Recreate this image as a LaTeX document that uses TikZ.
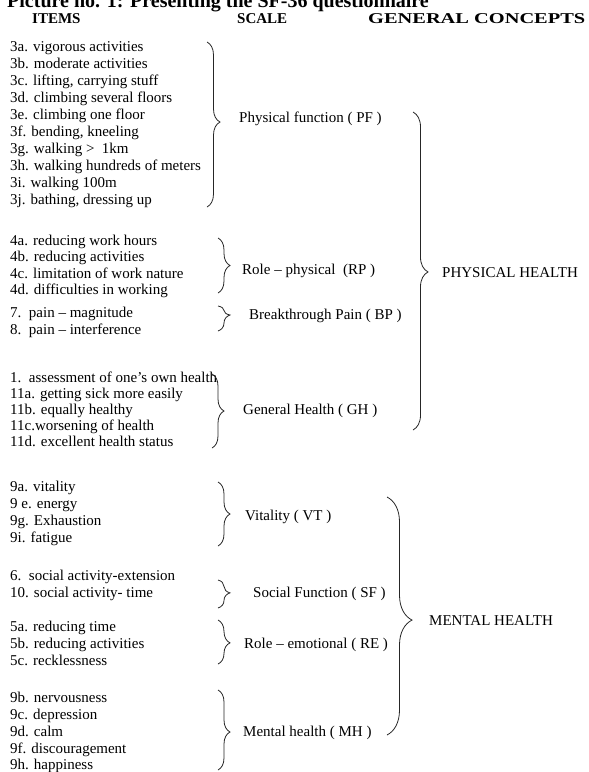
\documentclass[tikz,border=0pt]{standalone}
\usepackage{fontspec}
\setmainfont{Liberation Serif}
\usetikzlibrary{decorations.pathreplacing}
\begin{document}
\begin{tikzpicture}[x=1pt,y=-1pt,
  item/.style={anchor=base west,inner sep=0pt,font=\fontsize{15}{17}\selectfont},
  head/.style={anchor=base west,inner sep=0pt,font=\fontsize{15}{17}\selectfont\bfseries},
  br/.style 2 args={decorate,decoration={brace,amplitude=#1,aspect=#2},line width=0.8pt,draw=black!85}]
\useasboundingbox (0,0) rectangle (589,772);
% title and headers
\node[anchor=base west,inner sep=0pt,font=\fontsize{20}{22}\selectfont\bfseries] (title) at (7,7) {Picture no. 1: Presenting the SF-36 questionnaire};
\node[head] (hitems) at (32,23.5) {ITEMS};
\node[head] (hscale) at (237,23.5) {SCALE};
\node[head] (hgen) at (368,23.5) {\scalebox{1.36}[1]{GENERAL CONCEPTS}};
% PF items
\node[item] (i3a) at (10,51) {3a. vigorous activities};
\node[item] (i3b) at (10,68) {3b. moderate activities};
\node[item] (i3c) at (10,85) {3c. lifting, carrying stuff};
\node[item] (i3d) at (10,102) {3d. climbing several floors};
\node[item] (i3e) at (10,119) {3e. climbing one floor};
\node[item] (i3f) at (10,136) {3f. bending, kneeling};
\node[item] (i3g) at (10,153) {3g. walking >\ \ 1km};
\node[item] (i3h) at (10,170) {3h. walking hundreds of meters};
\node[item] (i3i) at (10,187) {3i. walking 100m};
\node[item] (i3j) at (10,204) {3j. bathing, dressing up};
% RP items
\node[item] (i4a) at (10,245) {4a. reducing work hours};
\node[item] (i4b) at (10,261) {4b. reducing activities};
\node[item] (i4c) at (10,278) {4c. limitation of work nature};
\node[item] (i4d) at (10,294) {4d. difficulties in working};
% BP items
\node[item] (i7) at (10,317) {7.\ \ pain – magnitude};
\node[item] (i8) at (10,334) {8.\ \ pain – interference};
% GH items
\node[item] (i1) at (10,382) {1.\ \ assessment of one’s own health};
\node[item] (i11a) at (10,398) {11a. getting sick more easily};
\node[item] (i11b) at (10,414) {11b. equally healthy};
\node[item] (i11c) at (10,430) {11c.worsening of health};
\node[item] (i11d) at (10,446) {11d. excellent health status};
% VT items
\node[item] (i9a) at (10,491) {9a. vitality};
\node[item] (i9e) at (10,508) {9 e. energy};
\node[item] (i9g) at (10,525) {9g. Exhaustion};
\node[item] (i9i) at (10,542) {9i. fatigue};
% SF items
\node[item] (i6) at (10,580) {6.\ \ social activity-extension};
\node[item] (i10) at (10,597) {10. social activity- time};
% RE items
\node[item] (i5a) at (10,631) {5a. reducing time};
\node[item] (i5b) at (10,648) {5b. reducing activities};
\node[item] (i5c) at (10,665) {5c. recklessness};
% MH items
\node[item] (i9b) at (10,702) {9b. nervousness};
\node[item] (i9c) at (10,719) {9c. depression};
\node[item] (i9d) at (10,736) {9d. calm};
\node[item] (i9f) at (10,753) {9f. discouragement};
\node[item] (i9h) at (10,769) {9h. happiness};
% scale labels
\node[item] (pf) at (239,122) {Physical function ( PF )};
\node[item] (rp) at (242,274) {Role – physical\ \ (RP )};
\node[item] (bp) at (249,319) {Breakthrough Pain ( BP )};
\node[item] (gh) at (243,414) {General Health ( GH )};
\node[item] (vt) at (245,520) {Vitality ( VT )};
\node[item] (sf) at (253,597) {Social Function ( SF )};
\node[item] (re) at (244,648) {Role – emotional ( RE )};
\node[item] (mh) at (243,736) {Mental health ( MH )};
% general concepts
\node[item] (ph) at (442,277) {PHYSICAL HEALTH};
\node[item] (ment) at (429,625) {MENTAL HEALTH};
% brace end points
\coordinate (pfT) at (207,42);  \coordinate (pfB) at (207,207);
\coordinate (rpT) at (218,238); \coordinate (rpB) at (218,293);
\coordinate (bpT) at (218,306); \coordinate (bpB) at (218,331);
\coordinate (ghT) at (212,374); \coordinate (ghB) at (212,448);
\coordinate (vtT) at (218,482); \coordinate (vtB) at (218,546);
\coordinate (sfT) at (218,580); \coordinate (sfB) at (218,608);
\coordinate (reT) at (218,620); \coordinate (reB) at (218,664);
\coordinate (mhT) at (218,690); \coordinate (mhB) at (218,770);
\coordinate (phT) at (413,112); \coordinate (phB) at (413,430);
\coordinate (meT) at (387,497); \coordinate (meB) at (387,735);
% braces
\draw[br={13pt}{0.485}] (pfT) -- (pfB);
\draw[br={12pt}{0.5}] (rpT) -- (rpB);
\draw[br={12pt}{0.36}] (bpT) -- (bpB);
\draw[br={12pt}{0.5}] (ghT) -- (ghB);
\draw[br={12pt}{0.5}] (vtT) -- (vtB);
\draw[br={12pt}{0.46}] (sfT) -- (sfB);
\draw[br={12pt}{0.52}] (reT) -- (reB);
\draw[br={12pt}{0.525}] (mhT) -- (mhB);
\draw[br={15pt}{0.503}] (phT) -- (phB);
\draw[br={25pt}{0.517}] (meT) -- (meB);
\end{tikzpicture}
\end{document}
